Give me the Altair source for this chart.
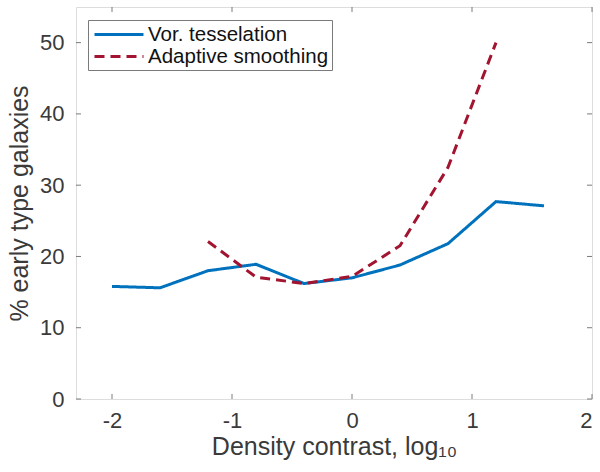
import altair as alt
import pandas as pd

# Data
vor_x = [-2.0, -1.6, -1.2, -0.8, -0.4, 0.0, 0.4, 0.8, 1.2, 1.6]
vor_y = [15.8, 15.6, 18.0, 18.9, 16.2, 17.0, 18.8, 21.8, 27.7, 27.1]
ada_x = [-1.2, -0.8, -0.4, 0.0, 0.4, 0.8, 1.2]
ada_y = [22.1, 17.1, 16.2, 17.2, 21.5, 32.5, 50.0]
series_names = ["Vor. tesselation", "Adaptive smoothing"]
series_colors = ["#0072BD", "#A2142F"]
x_ticks = [-2, -1, 0, 1, 2]
y_ticks = [0, 10, 20, 30, 40, 50]

df = pd.DataFrame(
    {"x": vor_x + ada_x,
     "y": vor_y + ada_y,
     "series": [series_names[0]] * len(vor_x) + [series_names[1]] * len(ada_x)}
)
xt = pd.DataFrame({"t": x_ticks})
yt = pd.DataFrame({"t": y_ticks})

W, H = 516, 392
FONT = "Liberation Sans"
TXT = "#3a3a3a"
AX = "#7a7a7a"

xscale = alt.Scale(domain=[-2.3, 2], nice=False, zero=False)
yscale = alt.Scale(domain=[0, 55], nice=False, zero=False)

legend = alt.Legend(
    title=None, orient="none", legendX=12, legendY=13,
    strokeColor=AX, fillColor="white", padding=3,
    labelFontSize=20.5, labelFont=FONT, labelColor="#111111", labelLimit=400,
    symbolType="M-0.8,0H4.1", symbolSize=400, symbolStrokeWidth=3,
    labelOffset=34, rowPadding=0,
)

lines = alt.Chart(df).mark_line(strokeWidth=3).encode(
    x=alt.X("x:Q", scale=xscale,
            axis=alt.Axis(values=x_ticks, tickSize=0, domain=False, grid=False,
                          labelExpr="'' + datum.value",
                          labelPadding=11, labelFontSize=22, labelFont=FONT,
                          labelColor=TXT, title="Density contrast, log₁₀",
                          titleFontSize=25, titleFont=FONT, titleFontWeight="normal",
                          titleColor=TXT, titlePadding=3)),
    y=alt.Y("y:Q", scale=yscale,
            axis=alt.Axis(values=y_ticks, tickSize=0, domain=False, grid=False,
                          labelPadding=12, labelFontSize=22, labelFont=FONT,
                          labelColor=TXT, title="% early type galaxies",
                          titleFontSize=25, titleFont=FONT, titleFontWeight="normal",
                          titleColor=TXT, titlePadding=7)),
    color=alt.Color("series:N", scale=alt.Scale(domain=series_names, range=series_colors),
                    legend=legend),
    strokeDash=alt.StrokeDash("series:N",
                              scale=alt.Scale(domain=series_names, range=[[1, 0], [10, 6]]),
                              legend=legend),
)

tick_style = dict(color=AX, strokeWidth=1)
xb = alt.Chart(xt).mark_rule(**tick_style).encode(
    x=alt.X("t:Q", scale=xscale), y=alt.value(H), y2=alt.value(H - 5))
xtop = alt.Chart(xt).mark_rule(**tick_style).encode(
    x=alt.X("t:Q", scale=xscale), y=alt.value(0), y2=alt.value(5))
yl = alt.Chart(yt).mark_rule(**tick_style).encode(
    y=alt.Y("t:Q", scale=yscale), x=alt.value(0), x2=alt.value(5))
yr = alt.Chart(yt).mark_rule(**tick_style).encode(
    y=alt.Y("t:Q", scale=yscale), x=alt.value(W), x2=alt.value(W - 5))

chart = alt.layer(xb, xtop, yl, yr, lines).properties(
    width=W, height=H,
    autosize=alt.AutoSizeParams(type="none"),
    padding={"left": 76, "top": 7, "right": 8, "bottom": 73},
).configure_view(stroke=AX, strokeWidth=1.2).configure(background="white")

chart.save("out.html", embed_options={"renderer": "svg", "actions": False})
